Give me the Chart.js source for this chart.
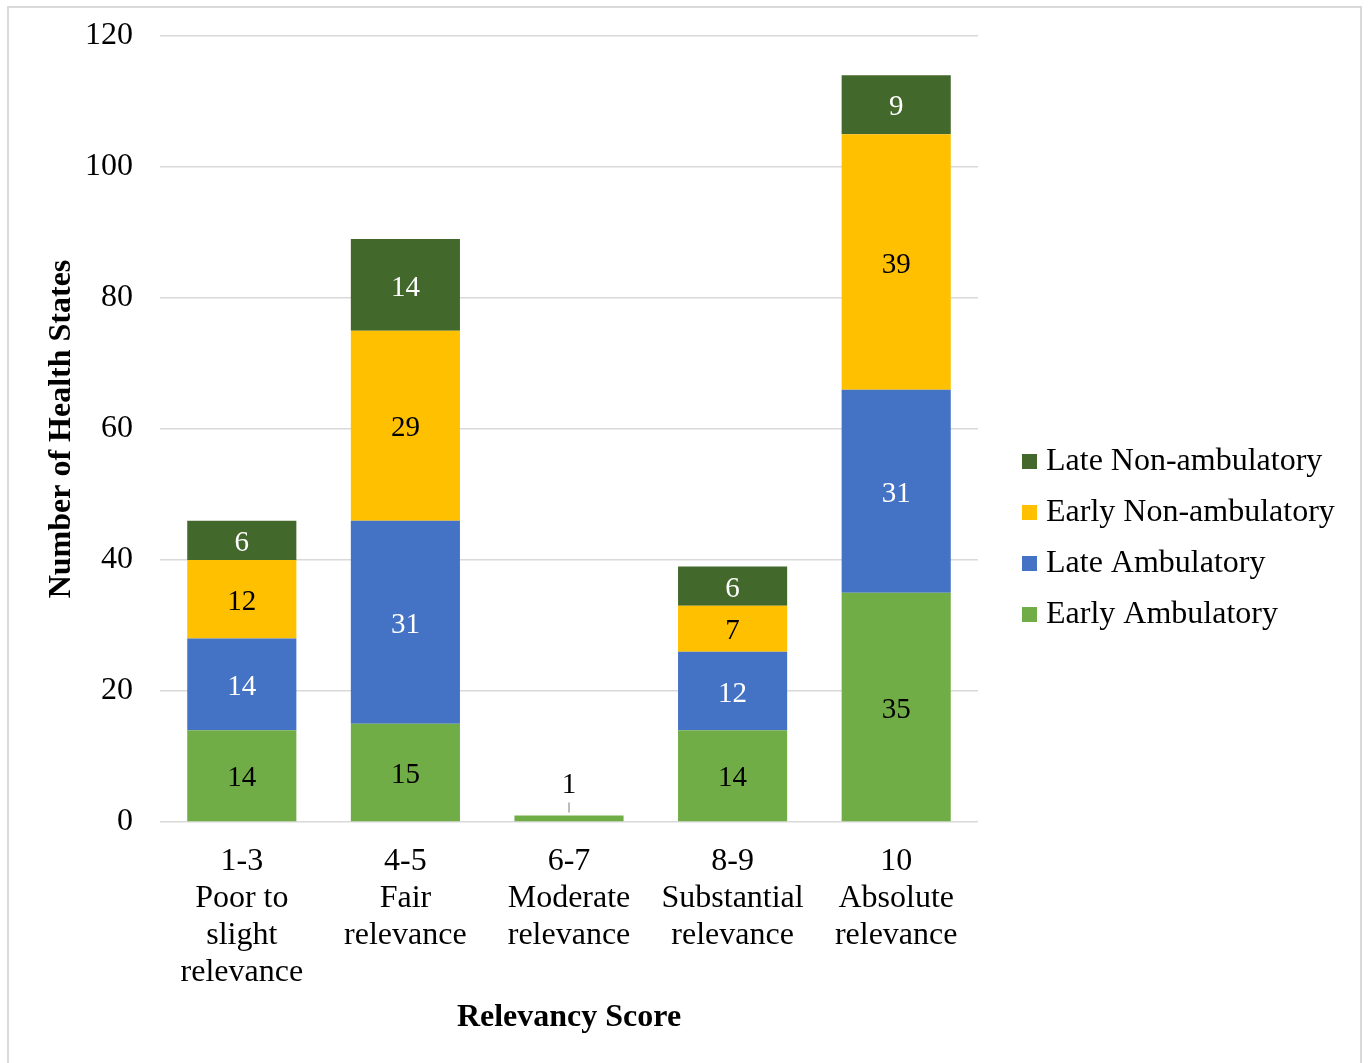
<!DOCTYPE html>
<html>
<head>
<meta charset="utf-8">
<script src="https://cdn.jsdelivr.net/npm/chart.js@4.4.1/dist/chart.umd.min.js"></script>
<style>
html, body { margin: 0; padding: 0; background: #fff; }
#contenedor { position: absolute; left: 0; top: 0; width: 1369px; height: 1063px; }
#marco { position: absolute; left: 7px; top: 6px; width: 1355px; height: 1080px; border: 2px solid #d9d9d9; box-sizing: border-box; pointer-events: none; }
</style>
</head>
<body>
<div id="contenedor"><canvas id="grafico" width="1369" height="1063"></canvas></div>
<div id="marco"></div>
<script>

const categorias = [
    ["1-3", "Poor to", "slight", "relevance"],
    ["4-5", "Fair", "relevance"],
    ["6-7", "Moderate", "relevance"],
    ["8-9", "Substantial", "relevance"],
    ["10", "Absolute", "relevance"]
];

const earlyAmbulatory = [14, 15, 1, 14, 35];
const lateAmbulatory = [14, 31, 0, 12, 31];
const earlyNonAmbulatory = [12, 29, 0, 7, 39];
const lateNonAmbulatory = [6, 14, 0, 6, 9];

const ejeYMin = 0;
const ejeYMax = 120;
const ejeYPaso = 20;

const fuente = '"Liberation Serif", "Times New Roman", serif';

// etiquetas de valor dentro de cada barra
const etiquetasPlugin = {

    id: "etiquetas",

    afterDatasetsDraw(chart) {

        const ctx = chart.ctx;

        ctx.save();
        ctx.font = "29px " + fuente;
        ctx.textAlign = "center";
        ctx.textBaseline = "middle";

        chart.data.datasets.forEach((ds, i) => {

            const meta = chart.getDatasetMeta(i);

            meta.data.forEach((barra, j) => {

                const valor = ds.data[j];

                if (!valor) return;

                const alto = barra.base - barra.y;

                if (alto < 20) {

                    ctx.strokeStyle = "#a6a6a6";
                    ctx.lineWidth = 1.5;
                    ctx.beginPath();
                    ctx.moveTo(barra.x, barra.y - 3);
                    ctx.lineTo(barra.x, barra.y - 13);
                    ctx.stroke();

                    ctx.fillStyle = "#000";
                    ctx.fillText(String(valor), barra.x, barra.y - 30);

                } else {

                    ctx.fillStyle = ds.colorTexto;
                    ctx.fillText(String(valor), barra.x, barra.y + alto / 2 + 3);

                }

            });

        });

        ctx.restore();

    }

};

// leyenda a la derecha (orden invertido, como en Excel)
const leyendaPlugin = {

    id: "leyenda",

    afterDraw(chart) {

        const ctx = chart.ctx;
        const items = chart.data.datasets.slice().reverse();
        const salto = 51;
        const xCaja = chart.chartArea.right + 44;
        const yInicio = chart.height / 2 + 6 - salto * (items.length - 1) / 2;

        ctx.save();
        ctx.font = "32px " + fuente;
        ctx.textAlign = "left";
        ctx.textBaseline = "middle";

        items.forEach((ds, k) => {

            const y = yInicio + k * salto;

            ctx.fillStyle = ds.backgroundColor;
            ctx.fillRect(xCaja, y - 7, 15, 15);

            ctx.fillStyle = "#000";
            ctx.fillText(ds.label, xCaja + 24, y + 1);

        });

        ctx.restore();

    }

};

new Chart(

    document.getElementById("grafico"),

    {

        type: "bar",

        data: {

            labels: categorias,

            datasets: [

                {
                    label: "Early Ambulatory",
                    data: earlyAmbulatory,
                    backgroundColor: "#70ad47",
                    colorTexto: "#000"
                },

                {
                    label: "Late Ambulatory",
                    data: lateAmbulatory,
                    backgroundColor: "#4472c4",
                    colorTexto: "#fff"
                },

                {
                    label: "Early Non-ambulatory",
                    data: earlyNonAmbulatory,
                    backgroundColor: "#ffc000",
                    colorTexto: "#000"
                },

                {
                    label: "Late Non-ambulatory",
                    data: lateNonAmbulatory,
                    backgroundColor: "#43682b",
                    colorTexto: "#fff"
                }

            ]

        },

        options: {

            responsive: false,
            animation: false,
            devicePixelRatio: 1,

            categoryPercentage: 1,
            barPercentage: 0.667,

            layout: {
                padding: { top: 36, left: 0, right: 391, bottom: 22 }
            },

            plugins: {

                legend: { display: false },

                tooltip: { enabled: false }

            },

            scales: {

                x: {
                    stacked: true,
                    grid: { display: false, drawTicks: false },
                    border: { display: false },
                    ticks: {
                        color: "#000",
                        padding: 21,
                        maxRotation: 0,
                        autoSkip: false,
                        font: { family: fuente, size: 32, lineHeight: 1.156 }
                    },
                    title: {
                        display: true,
                        text: "Relevancy Score",
                        color: "#000",
                        padding: { top: 4, bottom: 4 },
                        font: { family: fuente, size: 32, weight: "bold" }
                    },
                    afterFit: s => { s.height = 1063 - 22 - 822; }
                },

                y: {
                    stacked: true,
                    min: ejeYMin,
                    max: ejeYMax,
                    grid: {
                        color: "#d9d9d9",
                        lineWidth: 1.5,
                        drawTicks: false
                    },
                    border: { display: false },
                    ticks: {
                        stepSize: ejeYPaso,
                        color: "#000",
                        padding: 27,
                        font: { family: fuente, size: 32 }
                    },
                    title: {
                        display: true,
                        text: "Number of Health States",
                        color: "#000",
                        padding: { top: 43, bottom: 0 },
                        font: { family: fuente, size: 32, weight: "bold" }
                    },
                    afterFit: s => {
                        s.width = 160;
                        s.paddingTop = 0;
                        s.paddingBottom = 0;
                    }
                }

            }

        },

        plugins: [etiquetasPlugin, leyendaPlugin]

    }

);

</script>
</body>
</html>
